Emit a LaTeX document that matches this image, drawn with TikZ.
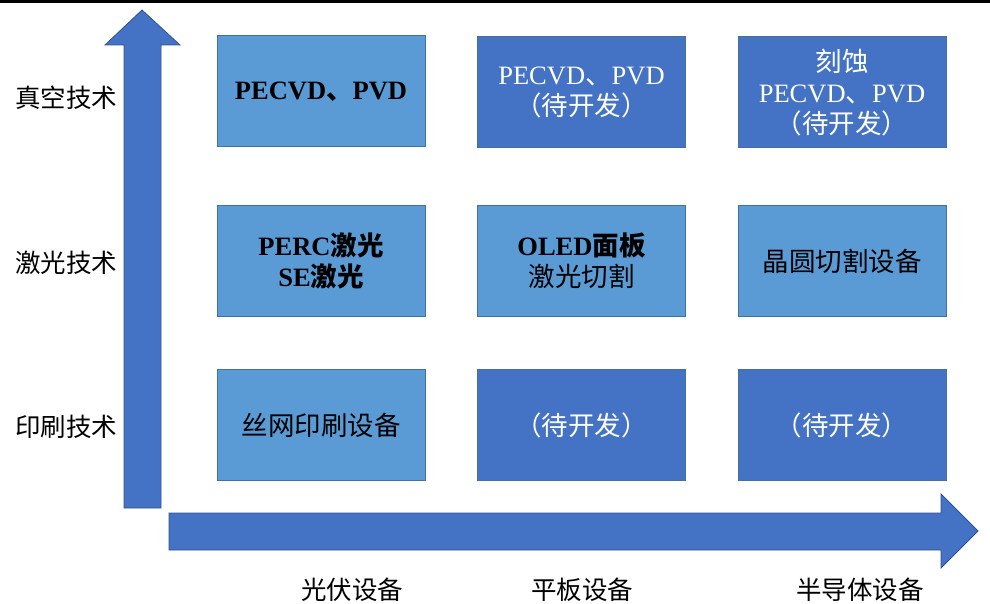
\documentclass[tikz,border=0pt]{standalone}
\usepackage{fontspec}
\setmainfont{Liberation Serif}
\newfontfamily\cjk{Noto Sans CJK SC}
\definecolor{lightbox}{HTML}{5B9BD5}
\definecolor{darkbox}{HTML}{4472C4}
\definecolor{boxline}{HTML}{41719C}
\definecolor{arrline}{HTML}{2F528F}
\begin{document}
\begin{tikzpicture}[x=1pt,y=-1pt,
  cell/.style={rectangle,draw=boxline,line width=1pt,minimum width=208pt,minimum height=111pt,align=center,inner sep=2pt,font=\fontsize{26.5}{31}\selectfont},
  lcell/.style={cell,fill=lightbox,text=black},
  dcell/.style={cell,fill=darkbox,text=white},
  bigarrow/.style={fill=darkbox,draw=arrline,line width=0.8pt},
  axislabel/.style={font=\cjk\fontsize{25.5}{30}\selectfont,text=black}]
\useasboundingbox (0,0) rectangle (990,604);
\draw[line width=3pt] (0,2) -- (990,2);
% axes arrows
\draw[bigarrow] (124,508) -- (124,45) -- (105,45) -- (142,10) -- (180,45) -- (161,45) -- (161,508) -- cycle;
\draw[bigarrow] (169,513) -- (941,513) -- (941,494) -- (978,531) -- (941,568) -- (941,550) -- (169,550) -- cycle;
% cells
\node[lcell] (c11) at (321,91.5) {\bfseries PECVD{\cjk 、}PVD};
\node[dcell] (c12) at (581.5,92.5) {PECVD{\cjk 、}PVD\\{\cjk （待开发）}};
\node[dcell] (c13) at (842,92.5) {{\cjk 刻蚀}\\PECVD{\cjk 、}PVD\\{\cjk （待开发）}};
\node[lcell] (c21) at (321,261) {\bfseries PERC{\cjk 激光}\\\bfseries SE{\cjk 激光}};
\node[lcell] (c22) at (581.5,261) {\bfseries OLED{\cjk 面板}\\{\cjk 激光切割}};
\node[lcell] (c23) at (842,261) {{\cjk 晶圆切割设备}};
\node[lcell] (c31) at (321,425) {{\cjk 丝网印刷设备}};
\node[dcell] (c32) at (581.5,425) {{\cjk （待开发）}};
\node[dcell] (c33) at (842,425) {{\cjk （待开发）}};
% row labels
\node[axislabel] (r1) at (66,98) {真空技术};
\node[axislabel] (r2) at (66,263) {激光技术};
\node[axislabel] (r3) at (66,427) {印刷技术};
% column labels
\node[axislabel] (k1) at (352,590) {光伏设备};
\node[axislabel] (k2) at (582,590) {平板设备};
\node[axislabel] (k3) at (860,590) {半导体设备};
\end{tikzpicture}
\end{document}
